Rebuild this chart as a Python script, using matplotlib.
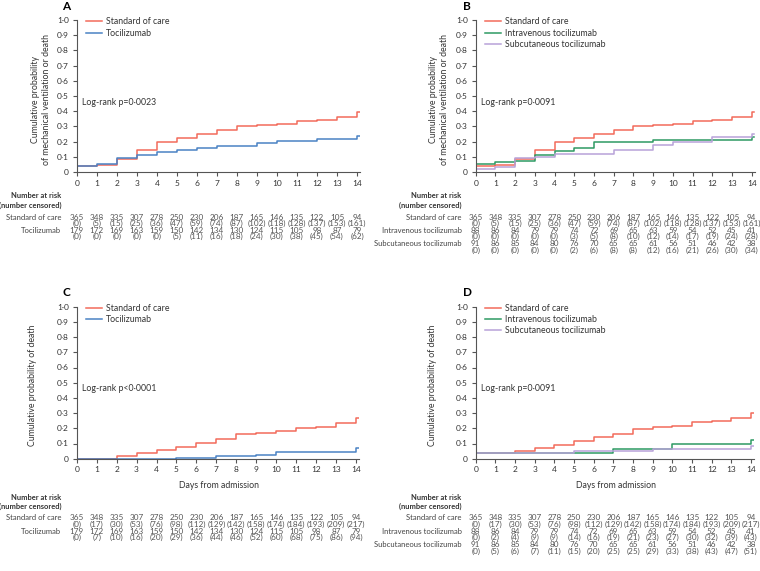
import matplotlib.pyplot as plt
from matplotlib.transforms import blended_transform_factory

plt.rcParams['font.family'] = ['Lato', 'DejaVu Sans']

W, H = 760, 571

days = list(range(15))

# Panel A / B: mechanical ventilation or death
soc_mv = [0.037, 0.044, 0.088, 0.144, 0.195, 0.223, 0.25, 0.276, 0.30, 0.31, 0.315, 0.337, 0.341, 0.361, 0.392]
toci_mv = [0.042, 0.055, 0.09, 0.11, 0.13, 0.145, 0.16, 0.17, 0.17, 0.19, 0.205, 0.205, 0.22, 0.22, 0.24]
iv_mv = [0.053, 0.066, 0.07, 0.115, 0.14, 0.16, 0.195, 0.195, 0.195, 0.21, 0.21, 0.21, 0.21, 0.21, 0.23]
sc_mv = [0.022, 0.035, 0.09, 0.10, 0.12, 0.12, 0.12, 0.145, 0.145, 0.175, 0.20, 0.20, 0.23, 0.23, 0.25]

# Panel C / D: death
soc_d = [0, 0, 0.015, 0.035, 0.055, 0.075, 0.105, 0.13, 0.16, 0.17, 0.18, 0.205, 0.21, 0.235, 0.265]
toci_d = [0, 0, 0, 0, 0, 0.005, 0.005, 0.02, 0.02, 0.025, 0.045, 0.045, 0.045, 0.045, 0.07]
soc_d2 = [0.035, 0.035, 0.05, 0.07, 0.09, 0.115, 0.14, 0.165, 0.195, 0.21, 0.215, 0.24, 0.245, 0.27, 0.30]
iv_d = [0.035, 0.035, 0.035, 0.035, 0.035, 0.035, 0.035, 0.065, 0.065, 0.065, 0.095, 0.095, 0.095, 0.095, 0.12]
sc_d = [0.035, 0.035, 0.035, 0.035, 0.035, 0.05, 0.05, 0.05, 0.05, 0.065, 0.065, 0.065, 0.065, 0.065, 0.085]

# numbers at risk (censored)
risk_soc = [365, 348, 335, 307, 278, 250, 230, 206, 187, 165, 146, 135, 122, 105, 94]
cens_soc_mv = [0, 5, 15, 25, 36, 47, 59, 74, 87, 102, 118, 128, 137, 153, 161]
cens_soc_d = [0, 17, 30, 53, 76, 98, 112, 129, 142, 158, 174, 184, 193, 209, 217]
risk_toci = [179, 172, 169, 163, 159, 150, 142, 134, 130, 124, 115, 105, 98, 87, 79]
cens_toci_mv = [0, 0, 0, 0, 0, 5, 11, 16, 18, 24, 30, 38, 45, 54, 62]
cens_toci_d = [0, 7, 10, 16, 20, 29, 36, 44, 46, 52, 60, 68, 75, 86, 94]
risk_iv = [88, 86, 84, 79, 79, 74, 72, 69, 65, 63, 59, 54, 52, 45, 41]
cens_iv_mv = [0, 0, 0, 0, 0, 3, 5, 8, 10, 12, 14, 17, 19, 24, 28]
cens_iv_d = [0, 2, 4, 9, 9, 14, 16, 19, 21, 23, 27, 30, 32, 39, 43]
risk_sc = [91, 86, 85, 84, 80, 76, 70, 65, 65, 61, 56, 51, 46, 42, 38]
cens_sc_mv = [0, 0, 0, 0, 0, 2, 6, 8, 8, 12, 16, 21, 26, 30, 34]
cens_sc_d = [0, 5, 6, 7, 11, 15, 20, 25, 25, 29, 33, 38, 43, 47, 51]

RED = '#f26b5b'
BLUE = '#4a82c4'
GREEN = '#2e9a63'
PURPLE = '#b8a2d9'
GREY = '#555555'

fig = plt.figure(figsize=(W / 100, H / 100), dpi=100)
fig.patch.set_facecolor('white')


def fx(px):
    return px / W


def fy(py):
    return 1 - py / H


def panel(x0, x14, y0, y1, letter, series, ylabel, ylab_x, pval, rows, label_right, row_y, head_y, xlabel_y=None):
    ppu = (x14 - x0) / 14
    xmax = 14.15
    ax = fig.add_axes([fx(x0), fy(y0), fx(ppu * xmax), (y0 - y1) / H])
    for vals, col, name in series:
        xs = days + [xmax - 0.02]
        ys = vals + [vals[-1]]
        ax.step(xs, ys, where='post', color=col, lw=1.1, label=name)
    ax.set_xlim(0, xmax)
    ax.set_ylim(0, 1.0)
    ax.set_xticks(days)
    ax.set_xticklabels([str(d) for d in days])
    yt = [i / 10 for i in range(11)]
    ax.set_yticks(yt)
    ax.set_yticklabels(['0'] + ['0·{}'.format(i) for i in range(1, 10)] + ['1·0'])
    for s in ['top', 'right']:
        ax.spines[s].set_visible(False)
    for s in ['left', 'bottom']:
        ax.spines[s].set_color(GREY)
        ax.spines[s].set_linewidth(0.8)
    ax.tick_params(colors=GREY, labelsize=6, length=3, width=0.8, pad=2.5, labelcolor='#333333')
    ax.set_ylabel(ylabel, fontsize=6.3, color='#333333', linespacing=1.25)
    # label anchor is its right edge
    ax.yaxis.set_label_coords((ylab_x - x0) / (ppu * xmax), 0.48)
    leg = ax.legend(loc='upper left', bbox_to_anchor=(0.02, 1.04), frameon=False, fontsize=6.3,
                    handlelength=1.9, handletextpad=0.4, labelspacing=0.25, borderaxespad=0)
    for t in leg.get_texts():
        t.set_color('#333333')
    ax.text(0.02, 0.46, pval, transform=ax.transAxes, fontsize=6.3, color='#333333', va='center')
    fig.text(fx(label_right + 1), fy(y1 - 14), letter, fontsize=8.5, fontweight='bold', ha='left', va='center')
    if xlabel_y is not None:
        fig.text(fx(x0 + (x14 - x0) / 2 + 3), fy(xlabel_y), 'Days from admission', fontsize=6.3,
                 color='#333333', ha='center', va='center')
    tr = blended_transform_factory(ax.transData, fig.transFigure)
    fig.text(fx(label_right), fy(head_y), 'Number at risk', fontsize=5.4, fontweight='bold',
             ha='right', va='center', color='#333333')
    fig.text(fx(label_right), fy(head_y + 9), '(number censored)', fontsize=5.4, fontweight='bold',
             ha='right', va='center', color='#333333')
    for i, (name, risk, cens) in enumerate(rows):
        yy = row_y + i * 13.3
        fig.text(fx(label_right), fy(yy), name, fontsize=5.5, ha='right', va='center', color='#444444')
        for d in days:
            ax.text(d, fy(yy), str(risk[d]), transform=tr, fontsize=5.9, ha='center', va='center', color='#555555')
            ax.text(d, fy(yy + 6.6), '({})'.format(cens[d]), transform=tr, fontsize=5.9, ha='center',
                    va='center', color='#555555')
    return ax


mv_label = 'Cumulative probability\nof mechanical ventilation or death'
d_label = 'Cumulative probability of death'

panel(76.7, 357, 172, 20, 'A',
      [(soc_mv, RED, 'Standard of care'), (toci_mv, BLUE, 'Tocilizumab')],
      mv_label, 51, 'Log-rank p=0·0023',
      [('Standard of care', risk_soc, cens_soc_mv), ('Tocilizumab', risk_toci, cens_toci_mv)],
      61.5, 217, 196)

panel(475.7, 751.7, 172, 20, 'B',
      [(soc_mv, RED, 'Standard of care'), (iv_mv, GREEN, 'Intravenous tocilizumab'),
       (sc_mv, PURPLE, 'Subcutaneous tocilizumab')],
      mv_label, 449, 'Log-rank p=0·0091',
      [('Standard of care', risk_soc, cens_soc_mv), ('Intravenous tocilizumab', risk_iv, cens_iv_mv),
       ('Subcutaneous tocilizumab', risk_sc, cens_sc_mv)],
      461.7, 217, 196)

panel(76.7, 356, 458.7, 306.7, 'C',
      [(soc_d, RED, 'Standard of care'), (toci_d, BLUE, 'Tocilizumab')],
      d_label, 37, 'Log-rank p<0·0001',
      [('Standard of care', risk_soc, cens_soc_d), ('Tocilizumab', risk_toci, cens_toci_d)],
      61.5, 518, 497, xlabel_y=485)

panel(475.7, 751, 458.7, 306.7, 'D',
      [(soc_d2, RED, 'Standard of care'), (iv_d, GREEN, 'Intravenous tocilizumab'),
       (sc_d, PURPLE, 'Subcutaneous tocilizumab')],
      d_label, 437, 'Log-rank p=0·0091',
      [('Standard of care', risk_soc, cens_soc_d), ('Intravenous tocilizumab', risk_iv, cens_iv_d),
       ('Subcutaneous tocilizumab', risk_sc, cens_sc_d)],
      461.7, 518, 497, xlabel_y=485)

fig.savefig('out.png', dpi=100)
